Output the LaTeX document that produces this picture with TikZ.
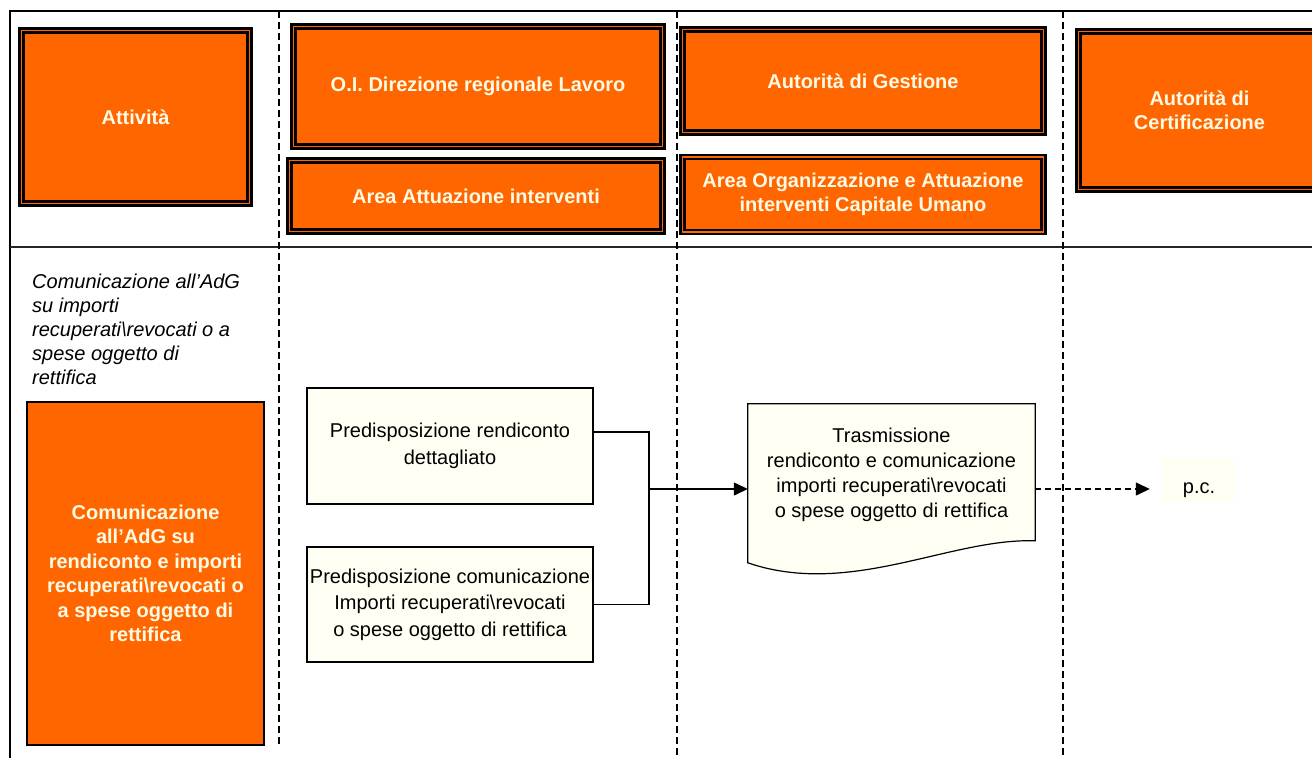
\documentclass[tikz,border=0pt]{standalone}
\usepackage{fontspec}
\setmainfont{Liberation Sans}
\usepackage{xcolor}
\usetikzlibrary{arrows.meta,positioning,calc,backgrounds}
\definecolor{lane}{RGB}{255,102,0}
\definecolor{cream}{RGB}{255,250,228}
\definecolor{paper}{RGB}{255,255,243}
\tikzset{
  HB/.style={draw=black, double=lane, double distance=1.8pt, line width=2.2pt,
             fill=lane, align=center, text=cream, inner sep=0pt,
             font=\fontsize{20}{24.5}\selectfont\bfseries},
  PB/.style={draw, line width=1.2pt, fill=paper, align=center, inner sep=0pt,
             font=\fontsize{20}{26.5}\selectfont},
  SA/.style={-{Triangle[length=14pt,width=13pt]}, line width=1.3pt},
  DA/.style={-{Triangle[length=14pt,width=13pt]}, line width=1.3pt,
             dash pattern=on 6pt off 4pt}
}

\begin{document}
\begin{tikzpicture}[
  x=1pt, y=-1pt,
  DL/.style={line width=1.5pt, dash pattern=on 7pt off 4pt},
  FL/.style={line width=2pt},
  NB/.style={align=left, inner sep=0pt, font=\fontsize{20}{24}\selectfont\itshape}
]
\useasboundingbox (0,0) rectangle (1312,758);
\clip (0,0) rectangle (1312,758);

% Frame and lanes
\draw[FL] (10,758) -- (10,11) -- (1312,11);
\draw[line width=1.5pt, black!85] (10,247) -- (1312,247);
\draw[DL] (279,11) -- (279,745);
\draw[DL] (677,11) -- (677,758);
\draw[DL] (1063,11) -- (1063,758);

% Header boxes
\node[HB, minimum width=228pt, minimum height=173pt] (ATT) at (135.5,117) {Attività};
\node[HB, minimum width=369pt, minimum height=120pt] (OID) at (478,86.5)
    {O.I. Direzione regionale Lavoro};
\node[HB, minimum width=373pt, minimum height=71pt] (AAI) at (476,196)
    {Area Attuazione interventi};
\node[HB, minimum width=361pt, minimum height=103pt] (ADG) at (863,81)
    {Autorità di Gestione};
\node[HB, minimum width=361pt, minimum height=75pt] (AOC) at (863,194.5)
    {Area Organizzazione e Attuazione\\interventi Capitale Umano};
\node[HB, minimum width=242pt, minimum height=158pt] (ADC) at (1199.5,110.5)
    {Autorità di\\Certificazione};

% Activity column
\node[NB, anchor=west] (NOTE) at (32,329)
    {Comunicazione all’AdG\\su importi\\recuperati\textbackslash revocati o a\\spese oggetto di\\rettifica};
\node[draw, line width=1.3pt, fill=lane, text=cream, align=center, inner sep=0pt,
      minimum width=237pt, minimum height=343pt,
      font=\fontsize{20}{24.5}\selectfont\bfseries] (COM) at (145.5,573.5)
    {Comunicazione\\all’AdG su\\rendiconto e importi\\recuperati\textbackslash revocati o\\a spese oggetto di\\rettifica};

% Process boxes
\node[PB, minimum width=286pt, minimum height=116pt] (PR1) at (450,446)
    {Predisposizione rendiconto\\dettagliato};
\node[PB, minimum width=286pt, minimum height=115pt] (PR2) at (450,604.5)
    {Predisposizione comunicazione\\Importi recuperati\textbackslash revocati\\o spese oggetto di rettifica};

% Document
\node[align=center, inner sep=0pt, minimum width=287pt, minimum height=142pt,
      font=\fontsize{20}{25}\selectfont] (TR) at (891.5,475)
    {Trasmissione\\rendiconto e comunicazione\\importi recuperati\textbackslash revocati\\o spese oggetto di rettifica};
\begin{scope}[on background layer]
\draw[line width=1.2pt, fill=paper] (TR.north west) -- (TR.north east)
    -- ($(TR.north east)+(0,137)$)
    .. controls ($(TR.north east)+(-85,134)$) and ($(TR.north west)+(102,194)$)
    .. ($(TR.north west)+(0,159)$) -- cycle;
\end{scope}

% p.c.
\node[fill=paper, minimum width=72pt, minimum height=44pt, inner sep=0pt,
      text height=26pt, text depth=0pt,
      font=\fontsize{20}{24}\selectfont] (PC) at (1199,480) {p.c.};

% Connectors
\coordinate (JN) at (649,489);
\draw[line width=1.3pt] ([yshift=14pt]PR1.east) -| (JN) |- (PR2.east);
\draw[SA] (JN) -- (JN -| TR.west);
\draw[DA] (JN -| TR.east) -- ([xshift=-13pt]JN -| PC.west);

\end{tikzpicture}
\end{document}
